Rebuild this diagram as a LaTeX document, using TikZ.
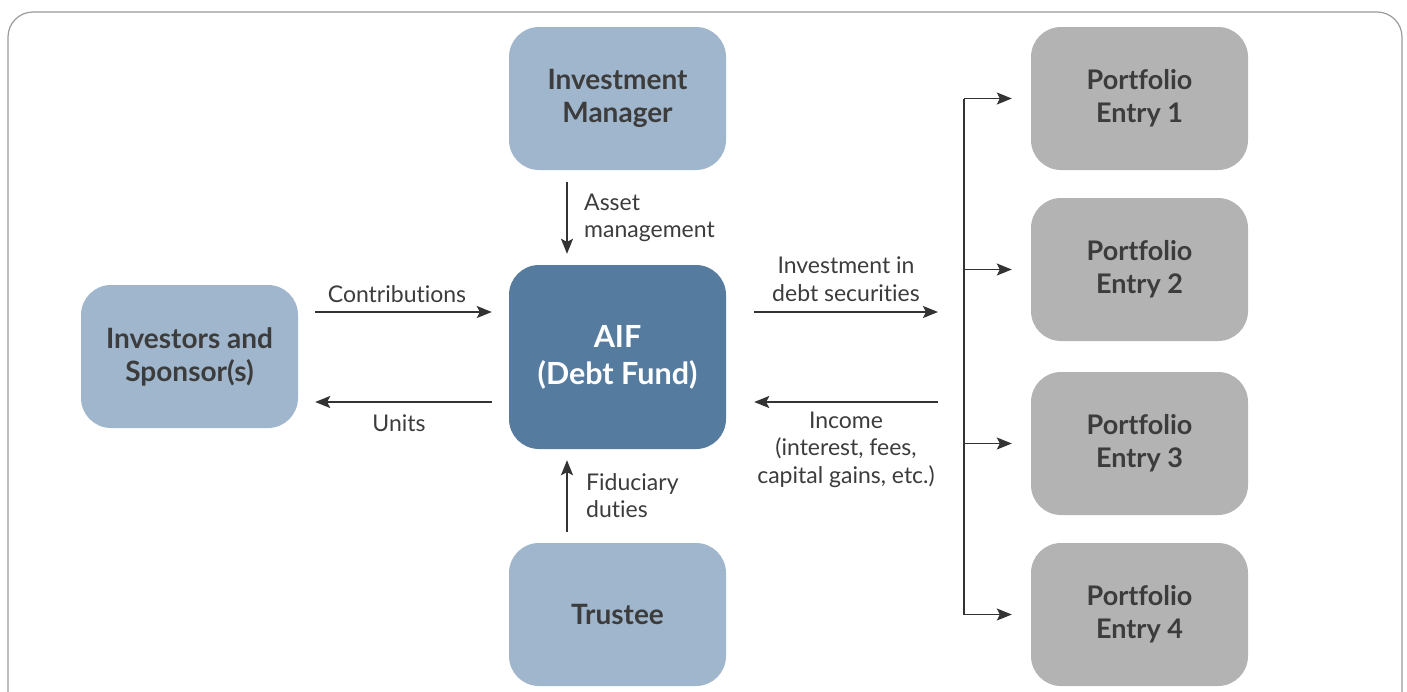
\documentclass[tikz,border=0pt]{standalone}
\usepackage{fontspec}
\setmainfont{Lato}[Ligatures=NoCommon]
\usetikzlibrary{arrows.meta,calc}
\definecolor{lightblue}{HTML}{A0B6CC}
\definecolor{darkblue}{HTML}{557B9F}
\definecolor{boxgray}{HTML}{B3B3B3}
\definecolor{txt}{HTML}{3C3C3C}
\definecolor{arrowc}{HTML}{333333}
\definecolor{framec}{HTML}{9A9A9A}
\begin{document}
\begin{tikzpicture}[x=1pt,y=-1pt,
  box/.style={rectangle,rounded corners=30pt,minimum width=217pt,minimum height=143pt,
    inner sep=0pt,align=center,text=txt,font=\fontsize{28}{33}\selectfont\bfseries},
  lbox/.style={box,fill=lightblue},
  gbox/.style={box,fill=boxgray,font=\fontsize{27}{33}\selectfont\bfseries},
  arr/.style={draw=arrowc,line width=1.5pt,-{Stealth[length=15pt,width=12pt,inset=3pt]}},
  line/.style={draw=arrowc,line width=1.5pt},
  lbl/.style={text=txt,font=\fontsize{23}{27.5}\selectfont,inner sep=0pt,align=center}]
\useasboundingbox (0,0) rectangle (1407,691);
\draw[framec,line width=1.2pt,rounded corners=25pt] (8,720) -- (8,12) -- (1402,12) -- (1402,720);
% nodes
\node[lbox] (im) at (617.5,98.5) {Investment\\Manager};
\node[box,fill=darkblue,minimum height=184pt,text=white,font=\fontsize{30.5}{37}\selectfont\bfseries] (aif) at (617.5,357) {AIF\\(Debt Fund)};
\node[lbox] (tr) at (617.5,614.5) {Trustee};
\node[lbox] (inv) at (189.5,356.5) {Investors and\\Sponsor(s)};
\node[gbox] (pe1) at (1139.5,98.5) {Portfolio\\Entry 1};
\node[gbox] (pe2) at (1139.5,269.5) {Portfolio\\Entry 2};
\node[gbox] (pe3) at (1139.5,443.5) {Portfolio\\Entry 3};
\node[gbox] (pe4) at (1139.5,614.5) {Portfolio\\Entry 4};
\coordinate (bus) at (964,0);
\coordinate (aifhi) at ([yshift=45pt]aif.east);
\coordinate (aiflo) at ([yshift=-45pt]aif.east);
% vertical arrows
\draw[arr,shorten <=12pt,shorten >=11pt] ([xshift=-50.5pt]im.south) -- ([xshift=-50.5pt]im.south |- aif.north);
\draw[arr,shorten <=11pt,shorten >=11pt] ([xshift=-50.5pt]tr.north) -- ([xshift=-50.5pt]tr.north |- aif.south);
\node[lbl,anchor=west,align=left] (am) at (584,218) {Asset\\management};
\node[lbl,anchor=west,align=left] (fd) at (586,495.5) {Fiduciary\\duties};
% left arrows
\draw[arr,shorten <=17pt,shorten >=17pt] ([yshift=44.5pt]inv.east) -- ([yshift=44.5pt]inv.east -| aif.west);
\draw[arr,shorten <=17pt,shorten >=17pt] ([yshift=-45.5pt]inv.east -| aif.west) -- ([yshift=-45.5pt]inv.east);
\node[lbl] (contr) at (397,294) {Contributions};
\node[lbl] (units) at (399,423) {Units};
% right arrows
\draw[arr,shorten <=28pt,shorten >=26pt] (aifhi) -- (bus |- aifhi);
\draw[arr,shorten <=26pt,shorten >=28pt] (bus |- aiflo) -- (aiflo);
\node[lbl] (inves) at (846,279) {Investment in\\debt securities};
\node[lbl] (inc) at (846,449.5) {Income\\(interest, fees,\\capital gains, etc.)};
% bus
\draw[line] (bus |- pe1.west) -- (bus |- pe4.west);
\foreach \p in {pe1,pe2,pe3,pe4}
  \draw[arr,shorten >=19pt] (bus |- \p.west) -- (\p.west);
\end{tikzpicture}
\end{document}
